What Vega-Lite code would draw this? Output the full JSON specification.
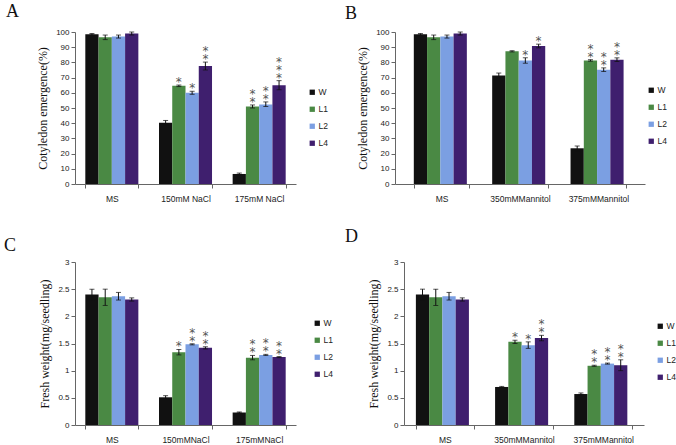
{
  "$schema": "https://vega.github.io/schema/vega-lite/v6.json",
  "background": "white",
  "padding": {"left": 4, "top": 3, "right": 0, "bottom": 0},
  "datasets": {
    "A": [
      {"cond": "MS", "line": "W", "mean": 98.5, "lo": 98, "hi": 99, "n": 0},
      {"cond": "MS", "line": "L1", "mean": 96.5, "lo": 95, "hi": 98, "n": 0},
      {"cond": "MS", "line": "L2", "mean": 97, "lo": 96, "hi": 98, "n": 0},
      {"cond": "MS", "line": "L4", "mean": 99, "lo": 98, "hi": 100, "n": 0},
      {"cond": "150mM NaCl", "line": "W", "mean": 40.3, "lo": 38.8, "hi": 41.8, "n": 0},
      {"cond": "150mM NaCl", "line": "L1", "mean": 64.6, "lo": 64.1, "hi": 65.1, "n": 1},
      {"cond": "150mM NaCl", "line": "L2", "mean": 60, "lo": 59, "hi": 61, "n": 1},
      {"cond": "150mM NaCl", "line": "L4", "mean": 77.6, "lo": 75, "hi": 80.2, "n": 2},
      {"cond": "175mM NaCl", "line": "W", "mean": 6.6, "lo": 6, "hi": 7.2, "n": 0},
      {"cond": "175mM NaCl", "line": "L1", "mean": 51, "lo": 50, "hi": 52, "n": 2},
      {"cond": "175mM NaCl", "line": "L2", "mean": 52.3, "lo": 51, "hi": 54, "n": 2},
      {"cond": "175mM NaCl", "line": "L4", "mean": 65, "lo": 62, "hi": 68, "n": 3}
    ],
    "B": [
      {"cond": "MS", "line": "W", "mean": 98.5, "lo": 98, "hi": 99, "n": 0},
      {"cond": "MS", "line": "L1", "mean": 96.5, "lo": 95, "hi": 98, "n": 0},
      {"cond": "MS", "line": "L2", "mean": 97, "lo": 96, "hi": 98, "n": 0},
      {"cond": "MS", "line": "L4", "mean": 99, "lo": 98, "hi": 100, "n": 0},
      {"cond": "350mMMannitol", "line": "W", "mean": 71.4, "lo": 70, "hi": 73, "n": 0},
      {"cond": "350mMMannitol", "line": "L1", "mean": 87.3, "lo": 86.9, "hi": 87.7, "n": 0},
      {"cond": "350mMMannitol", "line": "L2", "mean": 81.3, "lo": 79.5, "hi": 83, "n": 1},
      {"cond": "350mMMannitol", "line": "L4", "mean": 90.8, "lo": 89.6, "hi": 92, "n": 1},
      {"cond": "375mMMannitol", "line": "W", "mean": 23.5, "lo": 22, "hi": 25, "n": 0},
      {"cond": "375mMMannitol", "line": "L1", "mean": 81.3, "lo": 80.8, "hi": 81.8, "n": 2},
      {"cond": "375mMMannitol", "line": "L2", "mean": 75.2, "lo": 74, "hi": 76.4, "n": 2},
      {"cond": "375mMMannitol", "line": "L4", "mean": 81.8, "lo": 80.6, "hi": 83, "n": 2}
    ],
    "C": [
      {"cond": "MS", "line": "W", "mean": 2.4, "lo": 2.3, "hi": 2.5, "n": 0},
      {"cond": "MS", "line": "L1", "mean": 2.35, "lo": 2.2, "hi": 2.5, "n": 0},
      {"cond": "MS", "line": "L2", "mean": 2.37, "lo": 2.3, "hi": 2.44, "n": 0},
      {"cond": "MS", "line": "L4", "mean": 2.31, "lo": 2.28, "hi": 2.34, "n": 0},
      {"cond": "150mMNaCl", "line": "W", "mean": 0.51, "lo": 0.48, "hi": 0.54, "n": 0},
      {"cond": "150mMNaCl", "line": "L1", "mean": 1.34, "lo": 1.29, "hi": 1.39, "n": 1},
      {"cond": "150mMNaCl", "line": "L2", "mean": 1.485, "lo": 1.475, "hi": 1.495, "n": 2},
      {"cond": "150mMNaCl", "line": "L4", "mean": 1.42, "lo": 1.4, "hi": 1.44, "n": 2},
      {"cond": "175mMNaCl", "line": "W", "mean": 0.23, "lo": 0.22, "hi": 0.24, "n": 0},
      {"cond": "175mMNaCl", "line": "L1", "mean": 1.24, "lo": 1.2, "hi": 1.28, "n": 2},
      {"cond": "175mMNaCl", "line": "L2", "mean": 1.29, "lo": 1.28, "hi": 1.3, "n": 2},
      {"cond": "175mMNaCl", "line": "L4", "mean": 1.25, "lo": 1.24, "hi": 1.26, "n": 2}
    ],
    "D": [
      {"cond": "MS", "line": "W", "mean": 2.4, "lo": 2.3, "hi": 2.5, "n": 0},
      {"cond": "MS", "line": "L1", "mean": 2.35, "lo": 2.2, "hi": 2.5, "n": 0},
      {"cond": "MS", "line": "L2", "mean": 2.37, "lo": 2.3, "hi": 2.44, "n": 0},
      {"cond": "MS", "line": "L4", "mean": 2.31, "lo": 2.28, "hi": 2.34, "n": 0},
      {"cond": "350mMMannitol", "line": "W", "mean": 0.7, "lo": 0.69, "hi": 0.71, "n": 0},
      {"cond": "350mMMannitol", "line": "L1", "mean": 1.53, "lo": 1.5, "hi": 1.56, "n": 1},
      {"cond": "350mMMannitol", "line": "L2", "mean": 1.47, "lo": 1.41, "hi": 1.53, "n": 1},
      {"cond": "350mMMannitol", "line": "L4", "mean": 1.6, "lo": 1.55, "hi": 1.65, "n": 2},
      {"cond": "375mMMannitol", "line": "W", "mean": 0.57, "lo": 0.55, "hi": 0.59, "n": 0},
      {"cond": "375mMMannitol", "line": "L1", "mean": 1.09, "lo": 1.08, "hi": 1.1, "n": 2},
      {"cond": "375mMMannitol", "line": "L2", "mean": 1.13, "lo": 1.12, "hi": 1.14, "n": 2},
      {"cond": "375mMMannitol", "line": "L4", "mean": 1.1, "lo": 1.0, "hi": 1.2, "n": 2}
    ]
  },
  "vconcat": [
    {
      "hconcat": [
        {
          "width": 221, "height": 152,
          "data": {"name": "A"},
          "title": {"text": "A", "anchor": "start", "frame": "group", "dx": -69, "offset": 7, "baseline": "top", "font": "Liberation Serif", "fontSize": 18, "fontWeight": "normal", "color": "#111"},
          "encoding": {
            "x": {"field": "cond", "type": "nominal", "sort": null, "title": null, "scale": {"paddingInner": 0.28, "paddingOuter": 0.14}},
            "xOffset": {"field": "line", "type": "nominal", "sort": ["W", "L1", "L2", "L4"], "scale": {"paddingInner": 0, "paddingOuter": 0}}
          },
          "layer": [
            {"mark": {"type": "bar"}, "encoding": {
              "y": {"field": "mean", "type": "quantitative", "title": "Cotyledon emergence(%)", "scale": {"domain": [0, 100], "nice": false}, "axis": {"values": [0,10,20,30,40,50,60,70,80,90,100], "labelOverlap": false}},
              "color": {"field": "line", "type": "nominal", "title": null, "scale": {"domain": ["W", "L1", "L2", "L4"], "range": ["#111111", "#4a8944", "#7b9fe2", "#3f1f6e"]}, "legend": {"orient": "none", "legendX": 233, "legendY": 56}}
            }},
            {"mark": {"type": "rule", "color": "#111", "strokeWidth": 1}, "encoding": {"y": {"field": "lo", "type": "quantitative", "title": "Cotyledon emergence(%)", "axis": {"values": [0,10,20,30,40,50,60,70,80,90,100], "labelOverlap": false}}, "y2": {"field": "hi"}}},
            {"mark": {"type": "tick", "orient": "horizontal", "size": 5, "thickness": 1, "color": "#111"}, "encoding": {"y": {"field": "lo", "type": "quantitative", "title": "Cotyledon emergence(%)", "axis": {"values": [0,10,20,30,40,50,60,70,80,90,100], "labelOverlap": false}}}},
            {"mark": {"type": "tick", "orient": "horizontal", "size": 5, "thickness": 1, "color": "#111"}, "encoding": {"y": {"field": "hi", "type": "quantitative", "title": "Cotyledon emergence(%)", "axis": {"values": [0,10,20,30,40,50,60,70,80,90,100], "labelOverlap": false}}}},
            {"transform": [{"filter": "datum.n >= 1"}], "mark": {"type": "text", "text": "*", "baseline": "middle", "dy": -3, "fontSize": 12, "color": "#555", "font": "DejaVu Sans"}, "encoding": {"y": {"field": "hi", "type": "quantitative", "title": "Cotyledon emergence(%)", "axis": {"values": [0,10,20,30,40,50,60,70,80,90,100], "labelOverlap": false}}}},
            {"transform": [{"filter": "datum.n >= 2"}], "mark": {"type": "text", "text": "*", "baseline": "middle", "dy": -11, "fontSize": 12, "color": "#555", "font": "DejaVu Sans"}, "encoding": {"y": {"field": "hi", "type": "quantitative", "title": "Cotyledon emergence(%)", "axis": {"values": [0,10,20,30,40,50,60,70,80,90,100], "labelOverlap": false}}}},
            {"transform": [{"filter": "datum.n >= 3"}], "mark": {"type": "text", "text": "*", "baseline": "middle", "dy": -19, "fontSize": 12, "color": "#555", "font": "DejaVu Sans"}, "encoding": {"y": {"field": "hi", "type": "quantitative", "title": "Cotyledon emergence(%)", "axis": {"values": [0,10,20,30,40,50,60,70,80,90,100], "labelOverlap": false}}}}
          ]
        },
        {
          "width": 250, "height": 152,
          "data": {"name": "B"},
          "title": {"text": "B", "anchor": "start", "frame": "group", "dx": -50, "offset": 5, "baseline": "top", "font": "Liberation Serif", "fontSize": 18, "fontWeight": "normal", "color": "#111"},
          "encoding": {
            "x": {"field": "cond", "type": "nominal", "sort": null, "title": null, "scale": {"paddingInner": 0.29, "paddingOuter": 0.24}},
            "xOffset": {"field": "line", "type": "nominal", "sort": ["W", "L1", "L2", "L4"], "scale": {"paddingInner": 0, "paddingOuter": 0}}
          },
          "layer": [
            {"mark": {"type": "bar"}, "encoding": {
              "y": {"field": "mean", "type": "quantitative", "title": "Cotyledon emergence(%)", "scale": {"domain": [0, 100], "nice": false}, "axis": {"values": [0,10,20,30,40,50,60,70,80,90,100], "labelOverlap": false}},
              "color": {"field": "line", "type": "nominal", "title": null, "scale": {"domain": ["W", "L1", "L2", "L4"], "range": ["#111111", "#4a8944", "#7b9fe2", "#3f1f6e"]}, "legend": {"orient": "none", "legendX": 252, "legendY": 54}}
            }},
            {"mark": {"type": "rule", "color": "#111", "strokeWidth": 1}, "encoding": {"y": {"field": "lo", "type": "quantitative", "title": "Cotyledon emergence(%)", "axis": {"values": [0,10,20,30,40,50,60,70,80,90,100], "labelOverlap": false}}, "y2": {"field": "hi"}}},
            {"mark": {"type": "tick", "orient": "horizontal", "size": 5, "thickness": 1, "color": "#111"}, "encoding": {"y": {"field": "lo", "type": "quantitative", "title": "Cotyledon emergence(%)", "axis": {"values": [0,10,20,30,40,50,60,70,80,90,100], "labelOverlap": false}}}},
            {"mark": {"type": "tick", "orient": "horizontal", "size": 5, "thickness": 1, "color": "#111"}, "encoding": {"y": {"field": "hi", "type": "quantitative", "title": "Cotyledon emergence(%)", "axis": {"values": [0,10,20,30,40,50,60,70,80,90,100], "labelOverlap": false}}}},
            {"transform": [{"filter": "datum.n >= 1"}], "mark": {"type": "text", "text": "*", "baseline": "middle", "dy": -3, "fontSize": 12, "color": "#555", "font": "DejaVu Sans"}, "encoding": {"y": {"field": "hi", "type": "quantitative", "title": "Cotyledon emergence(%)", "axis": {"values": [0,10,20,30,40,50,60,70,80,90,100], "labelOverlap": false}}}},
            {"transform": [{"filter": "datum.n >= 2"}], "mark": {"type": "text", "text": "*", "baseline": "middle", "dy": -11, "fontSize": 12, "color": "#555", "font": "DejaVu Sans"}, "encoding": {"y": {"field": "hi", "type": "quantitative", "title": "Cotyledon emergence(%)", "axis": {"values": [0,10,20,30,40,50,60,70,80,90,100], "labelOverlap": false}}}}
          ]
        }
      ],
      "spacing": 17,
      "resolve": {"scale": {"color": "independent"}, "legend": {"color": "independent"}}
    },
    {
      "hconcat": [
        {
          "width": 221, "height": 163,
          "data": {"name": "C"},
          "title": {"text": "C", "anchor": "start", "frame": "group", "dx": -71, "offset": 3, "baseline": "top", "font": "Liberation Serif", "fontSize": 18, "fontWeight": "normal", "color": "#111"},
          "encoding": {
            "x": {"field": "cond", "type": "nominal", "sort": null, "title": null, "scale": {"paddingInner": 0.28, "paddingOuter": 0.14}},
            "xOffset": {"field": "line", "type": "nominal", "sort": ["W", "L1", "L2", "L4"], "scale": {"paddingInner": 0, "paddingOuter": 0}}
          },
          "layer": [
            {"mark": {"type": "bar"}, "encoding": {
              "y": {"field": "mean", "type": "quantitative", "title": "Fresh weight(mg/seedling)", "scale": {"domain": [0, 3], "nice": false}, "axis": {"values": [0,0.5,1,1.5,2,2.5,3], "format": "~g", "labelOverlap": false}},
              "color": {"field": "line", "type": "nominal", "title": null, "scale": {"domain": ["W", "L1", "L2", "L4"], "range": ["#111111", "#4a8944", "#7b9fe2", "#3f1f6e"]}, "legend": {"orient": "none", "legendX": 238, "legendY": 57}}
            }},
            {"mark": {"type": "rule", "color": "#111", "strokeWidth": 1}, "encoding": {"y": {"field": "lo", "type": "quantitative", "title": "Fresh weight(mg/seedling)", "axis": {"values": [0,0.5,1,1.5,2,2.5,3], "format": "~g", "labelOverlap": false}}, "y2": {"field": "hi"}}},
            {"mark": {"type": "tick", "orient": "horizontal", "size": 5, "thickness": 1, "color": "#111"}, "encoding": {"y": {"field": "lo", "type": "quantitative", "title": "Fresh weight(mg/seedling)", "axis": {"values": [0,0.5,1,1.5,2,2.5,3], "format": "~g", "labelOverlap": false}}}},
            {"mark": {"type": "tick", "orient": "horizontal", "size": 5, "thickness": 1, "color": "#111"}, "encoding": {"y": {"field": "hi", "type": "quantitative", "title": "Fresh weight(mg/seedling)", "axis": {"values": [0,0.5,1,1.5,2,2.5,3], "format": "~g", "labelOverlap": false}}}},
            {"transform": [{"filter": "datum.n >= 1"}], "mark": {"type": "text", "text": "*", "baseline": "middle", "dy": -3, "fontSize": 12, "color": "#555", "font": "DejaVu Sans"}, "encoding": {"y": {"field": "hi", "type": "quantitative", "title": "Fresh weight(mg/seedling)", "axis": {"values": [0,0.5,1,1.5,2,2.5,3], "format": "~g", "labelOverlap": false}}}},
            {"transform": [{"filter": "datum.n >= 2"}], "mark": {"type": "text", "text": "*", "baseline": "middle", "dy": -11, "fontSize": 12, "color": "#555", "font": "DejaVu Sans"}, "encoding": {"y": {"field": "hi", "type": "quantitative", "title": "Fresh weight(mg/seedling)", "axis": {"values": [0,0.5,1,1.5,2,2.5,3], "format": "~g", "labelOverlap": false}}}}
          ]
        },
        {
          "width": 240, "height": 163,
          "data": {"name": "D"},
          "title": {"text": "D", "anchor": "start", "frame": "group", "dx": -59, "offset": 12, "baseline": "top", "font": "Liberation Serif", "fontSize": 18, "fontWeight": "normal", "color": "#111"},
          "encoding": {
            "x": {"field": "cond", "type": "nominal", "sort": null, "title": null, "scale": {"paddingInner": 0.27, "paddingOuter": 0.15}},
            "xOffset": {"field": "line", "type": "nominal", "sort": ["W", "L1", "L2", "L4"], "scale": {"paddingInner": 0, "paddingOuter": 0}}
          },
          "layer": [
            {"mark": {"type": "bar"}, "encoding": {
              "y": {"field": "mean", "type": "quantitative", "title": "Fresh weight(mg/seedling)", "scale": {"domain": [0, 3], "nice": false}, "axis": {"values": [0,0.5,1,1.5,2,2.5,3], "format": "~g", "labelOverlap": false}},
              "color": {"field": "line", "type": "nominal", "title": null, "scale": {"domain": ["W", "L1", "L2", "L4"], "range": ["#111111", "#4a8944", "#7b9fe2", "#3f1f6e"]}, "legend": {"orient": "none", "legendX": 252, "legendY": 60}}
            }},
            {"mark": {"type": "rule", "color": "#111", "strokeWidth": 1}, "encoding": {"y": {"field": "lo", "type": "quantitative", "title": "Fresh weight(mg/seedling)", "axis": {"values": [0,0.5,1,1.5,2,2.5,3], "format": "~g", "labelOverlap": false}}, "y2": {"field": "hi"}}},
            {"mark": {"type": "tick", "orient": "horizontal", "size": 5, "thickness": 1, "color": "#111"}, "encoding": {"y": {"field": "lo", "type": "quantitative", "title": "Fresh weight(mg/seedling)", "axis": {"values": [0,0.5,1,1.5,2,2.5,3], "format": "~g", "labelOverlap": false}}}},
            {"mark": {"type": "tick", "orient": "horizontal", "size": 5, "thickness": 1, "color": "#111"}, "encoding": {"y": {"field": "hi", "type": "quantitative", "title": "Fresh weight(mg/seedling)", "axis": {"values": [0,0.5,1,1.5,2,2.5,3], "format": "~g", "labelOverlap": false}}}},
            {"transform": [{"filter": "datum.n >= 1"}], "mark": {"type": "text", "text": "*", "baseline": "middle", "dy": -3, "fontSize": 12, "color": "#555", "font": "DejaVu Sans"}, "encoding": {"y": {"field": "hi", "type": "quantitative", "title": "Fresh weight(mg/seedling)", "axis": {"values": [0,0.5,1,1.5,2,2.5,3], "format": "~g", "labelOverlap": false}}}},
            {"transform": [{"filter": "datum.n >= 2"}], "mark": {"type": "text", "text": "*", "baseline": "middle", "dy": -11, "fontSize": 12, "color": "#555", "font": "DejaVu Sans"}, "encoding": {"y": {"field": "hi", "type": "quantitative", "title": "Fresh weight(mg/seedling)", "axis": {"values": [0,0.5,1,1.5,2,2.5,3], "format": "~g", "labelOverlap": false}}}}
          ]
        }
      ],
      "spacing": 12,
      "resolve": {"scale": {"color": "independent"}, "legend": {"color": "independent"}}
    }
  ],
  "spacing": 25,
  "resolve": {"scale": {"color": "independent"}, "legend": {"color": "independent"}},
  "config": {
    "view": {"stroke": null},
    "axis": {"grid": false, "labelFont": "Liberation Sans", "labelFontSize": 8, "labelColor": "#222", "labelOverlap": false, "domainColor": "#666", "tickColor": "#666", "tickSize": 4, "titleFont": "Liberation Serif", "titleFontSize": 12, "titleFontWeight": "normal", "titleColor": "#111"},
    "axisX": {"labelAngle": 0, "tickBand": "extent", "labelPadding": 6, "labelFontSize": 8.5},
    "axisY": {"titlePadding": 6, "labelPadding": 2},
    "legend": {"symbolType": "square", "symbolSize": 28, "symbolStrokeWidth": 0, "labelFont": "Liberation Sans", "labelFontSize": 8.5, "labelColor": "#222", "rowPadding": 8, "labelOffset": 2}
  }
}
